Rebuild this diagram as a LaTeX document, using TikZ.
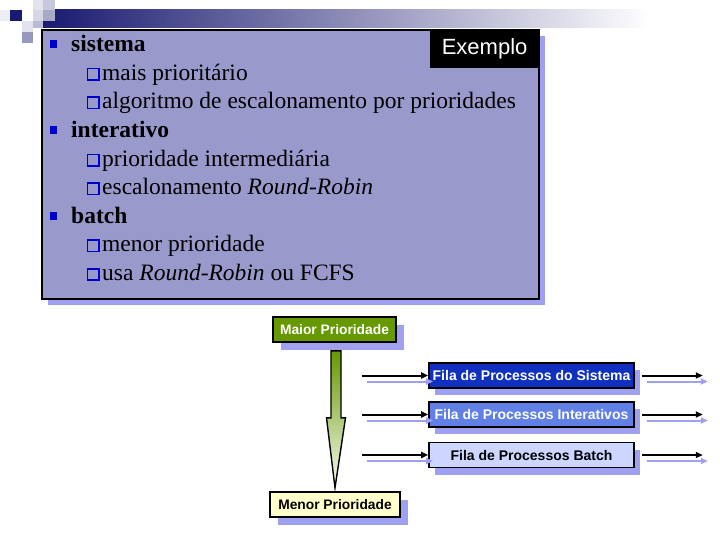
\documentclass[tikz,border=0pt]{standalone}
\usepackage{fontspec}
\setmainfont{Liberation Serif}
\setsansfont{Liberation Sans}
\usetikzlibrary{arrows.meta,positioning,calc,shadows}
\definecolor{panelfill}{RGB}{153,153,204}
\definecolor{shadowblue}{RGB}{160,160,240}
\definecolor{barnavy}{RGB}{26,26,112}
\definecolor{bulletblue}{RGB}{0,0,204}
\definecolor{maiorgreen}{RGB}{102,153,0}
\definecolor{menoryellow}{RGB}{255,255,204}
\definecolor{sysblue}{RGB}{16,48,192}
\definecolor{intblue}{RGB}{96,128,230}
\definecolor{batblue}{RGB}{204,214,255}
\newcommand{\RR}{\textit{Round-Robin}}

\begin{document}
\begin{tikzpicture}[x=1pt,y=-1pt,
  panel/.style={rectangle,draw=black,line width=1.8pt,fill=panelfill,
                minimum width=497pt,minimum height=269pt,anchor=north west,
                drop shadow={shadow xshift=6pt,shadow yshift=-6pt,
                             fill=shadowblue,opacity=1}},
  exbox/.style={rectangle,fill=black,text=white,minimum width=110pt,
                minimum height=39pt,inner sep=0pt,anchor=north east,
                font=\sffamily\fontsize{22}{24}\selectfont},
  itemone/.style={anchor=base west,inner sep=0pt,
                  font=\bfseries\fontsize{23.5}{28}\selectfont},
  itemtwo/.style={anchor=base west,inner sep=0pt,
                  font=\fontsize{23.5}{28}\selectfont},
  bulletone/.style={rectangle,fill=bulletblue,minimum width=7pt,
                    minimum height=8pt,inner sep=0pt},
  bullettwo/.style={rectangle,draw=bulletblue,line width=1.6pt,
                    minimum size=11.5pt,inner sep=0pt},
  prio/.style={rectangle,draw=black,line width=1.6pt,minimum height=25pt,
               inner sep=0pt,font=\sffamily\bfseries\fontsize{13.8}{15}\selectfont,
               drop shadow={shadow xshift=8pt,shadow yshift=-8pt,
                            fill=shadowblue,opacity=1}},
  queue/.style={rectangle,draw=black,line width=1.6pt,minimum width=205pt,
                minimum height=25pt,inner sep=0pt,
                font=\sffamily\bfseries\fontsize{14}{15}\selectfont,
                drop shadow={shadow xshift=6pt,shadow yshift=-7pt,
                             fill=shadowblue,opacity=1}},
  qarr/.style={-{Triangle[length=7pt,width=6pt]},line width=2pt,black},
  qshadow/.style={qarr,shadowblue,
                  transform canvas={shift={(5pt,-6pt)}}},
  bigarrow/.style={draw=black,line width=1.4pt,line join=miter,
                   top color=maiorgreen,bottom color=maiorgreen!4!white}]
\useasboundingbox (0,0) rectangle (720,540);
%% ── Title bar and corner squares ────────────────────────────────────────
\shade[left color=barnavy,right color=white] (43,10) rectangle (650,28);
\fill[white] (650,10) rectangle (720,28);
\fill[barnavy!8]  (0,10)  rectangle (10,21);
\fill[barnavy]    (10,10) rectangle (22,21);
\fill[barnavy!12] (33,0)  rectangle (43,10);
\fill[barnavy!24] (43,0)  rectangle (55,10);
\fill[barnavy!18] (33,10) rectangle (43,21);
\fill[barnavy!38] (43,10) rectangle (55,21);
\fill[barnavy!12] (22,21) rectangle (33,32);
\fill[barnavy!30] (33,21) rectangle (43,28);
\fill[barnavy!45] (22,32) rectangle (33,43);
%% ── Text panel ─────────────────────────────────────────────────────────
\node[panel] (panel) at (41,29) {};
\node[exbox] (ex) at (panel.north east) {Exemplo};
%% ── Item lines ─────────────────────────────────────────────────────────
\node[itemone] (itsis) at (71,51.7)  {sistema};
\node[itemtwo] (itmais) at (102,80.3) {mais prioritário};
\node[itemtwo] (italg) at (102,108.9) {algoritmo de escalonamento por prioridades};
\node[itemone] (itint) at (71,137.5) {interativo};
\node[itemtwo] (itprio) at (102,166.1) {prioridade intermediária};
\node[itemtwo] (itesc) at (102,194.7) {escalonamento \RR};
\node[itemone] (itbat) at (71,223.3) {batch};
\node[itemtwo] (itmen) at (102,251.9) {menor prioridade};
\node[itemtwo] (itusa) at (102,280.5) {usa \RR{} ou FCFS};
%% ── Bullets ─────────────────────────────────────────────────────────────
\foreach \it in {itsis,itint,itbat}
  \node[bulletone] at ([xshift=-17.5pt,yshift=7.2pt]\it.base west) {};
\foreach \it in {itmais,italg,itprio,itesc,itmen,itusa}
  \node[bullettwo] at ([xshift=-8.7pt,yshift=6pt]\it.base west) {};
%% ── Priority scale ─────────────────────────────────────────────────────
\node[prio,fill=maiorgreen,text=white,minimum width=123pt] (maior)
  at (334.5,329.5) {Maior Prioridade};
\node[prio,fill=menoryellow,minimum width=130pt] (menor)
  at (335,504.5) {Menor Prioridade};
\coordinate (atop) at ([xshift=1.5pt,yshift=-8pt]maior.south);
\coordinate (atip) at ([yshift=3.5pt]menor.north);
\path[bigarrow] ($(atop)+(-5,0)$) -- ($(atop)+(5,0)$) -- ($(atop)+(5,67)$)
  -- ($(atop)+(9.5,67)$) -- (atip) -- ($(atop)+(-9.5,67)$)
  -- ($(atop)+(-5,67)$) -- cycle;
%% ── Queues ──────────────────────────────────────────────────────────────
\node[queue,fill=sysblue,text=white] (qsis) at (531.5,375.5)
  {Fila de Processos do Sistema};
\node[queue,fill=intblue,text=white] (qint) at (531.5,414.5)
  {Fila de Processos Interativos};
\node[queue,fill=batblue] (qbat) at (531.5,455)
  {Fila de Processos Batch};
%% ── Queue arrows (shadow first) ────────────────────────────────────────
\foreach \q in {qsis,qint,qbat}{
  \coordinate (\q-in) at ([xshift=-66pt]\q.west);
  \coordinate (\q-out) at ([xshift=68pt]\q.east);
  \draw[qshadow] (\q-in) -- (\q.west);
  \draw[qshadow,shorten <=7pt] (\q.east) -- (\q-out);
  \draw[qarr] (\q-in) -- (\q.west);
  \draw[qarr,shorten <=7pt] (\q.east) -- (\q-out);
}
\end{tikzpicture}
\end{document}
